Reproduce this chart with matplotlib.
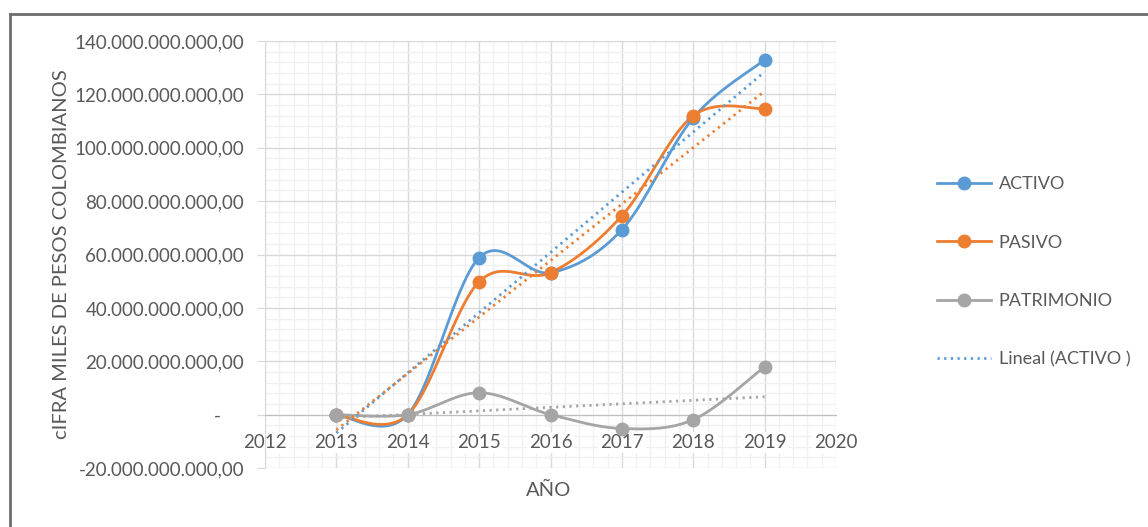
import numpy as np
import matplotlib
matplotlib.use("Agg")
import matplotlib.pyplot as plt
from matplotlib.lines import Line2D
from matplotlib.ticker import FuncFormatter, MultipleLocator, NullFormatter
import matplotlib.transforms as mtransforms

years = [2013, 2014, 2015, 2016, 2017, 2018, 2019]
activo = [0.0, 0.0, 58.8e9, 53.2e9, 69.3e9, 111.2e9, 132.9e9]
pasivo = [0.0, 0.0, 49.8e9, 53.2e9, 74.5e9, 112.0e9, 114.6e9]
patrimonio = [0.0, 0.0, 8.2e9, 0.0, -5.2e9, -1.9e9, 18.0e9]
series_names = ["ACTIVO", "PASIVO", "PATRIMONIO"]
colors = ["#5B9BD5", "#ED7D31", "#A5A5A5"]

plt.rcParams['font.family'] = ['Lato', 'DejaVu Sans']
txt = "#595959"

def smooth(x, y, n=60):
    x = np.asarray(x, float); y = np.asarray(y, float)
    P = np.column_stack([x, y])
    m = len(P)
    out = []
    for i in range(m - 1):
        p0 = P[max(i - 1, 0)]; p1 = P[i]; p2 = P[i + 1]; p3 = P[min(i + 2, m - 1)]
        c1 = p1 + (p2 - p0) / 6.0
        c2 = p2 - (p3 - p1) / 6.0
        t = np.linspace(0, 1, n)[:, None]
        seg = (1 - t) ** 3 * p1 + 3 * (1 - t) ** 2 * t * c1 + 3 * (1 - t) * t ** 2 * c2 + t ** 3 * p2
        out.append(seg if i == 0 else seg[1:])
    s = np.vstack(out)
    return s[:, 0], s[:, 1]

fig = plt.figure(figsize=(11.48, 5.27), dpi=100)
ax = fig.add_axes([265/1148, 1 - 468/527, (836 - 265)/1148, (468 - 41)/527])

data = [activo, pasivo, patrimonio]
for vals, c in zip(data, colors):
    sx, sy = smooth(years, vals)
    ax.plot(sx, sy, color=c, lw=2.0, zorder=3, solid_capstyle='round')
    k, b = np.polyfit(years, vals, 1)
    tx = np.array([years[0], years[-1]], float)
    ax.plot(tx, k * tx + b, color=c, lw=2.0, ls=(0, (0.8, 1.6)), zorder=4)
    ax.plot(years, vals, 'o', color=c, ms=9, zorder=5)

ax.set_xlim(2012, 2020)
ax.set_ylim(-20e9, 140e9)
ax.xaxis.set_major_locator(MultipleLocator(1))
ax.xaxis.set_minor_locator(MultipleLocator(0.2))
ax.yaxis.set_major_locator(MultipleLocator(20e9))
ax.yaxis.set_minor_locator(MultipleLocator(4e9))
ax.grid(which='major', color='#D9D9D9', lw=1.0, zorder=0)
ax.grid(which='minor', color='#F0F0F0', lw=1.0, zorder=0)
ax.set_axisbelow(True)

def yfmt(v, pos):
    if abs(v) < 1:
        return "-     "
    s = f"{int(round(v)):,}".replace(",", ".")
    return s + ",00"

ax.yaxis.set_major_formatter(FuncFormatter(yfmt))
ax.xaxis.set_major_formatter(NullFormatter())

for s in ['top', 'right']:
    ax.spines[s].set_visible(False)
ax.spines['bottom'].set_position(('data', 0))
ax.spines['bottom'].set_color('#BFBFBF')
ax.spines['left'].set_color('#D9D9D9')
ax.tick_params(axis='x', which='both', length=0)
ax.tick_params(axis='y', which='major', length=6, color='#D9D9D9', pad=9, labelsize=13.5, labelcolor=txt)
ax.tick_params(axis='y', which='minor', length=0)

# x tick labels drawn just below the zero line, on a white background
offset = mtransforms.ScaledTranslation(0, -14/72, fig.dpi_scale_trans)
for v in ax.get_xticks():
    if 2012 <= v <= 2020:
        ax.text(v, 0, f"{int(round(v))}", transform=ax.transData + offset,
                ha='center', va='top', fontsize=13.5, color=txt, zorder=2.5, clip_on=False,
                bbox=dict(facecolor='white', edgecolor='none', pad=1.5))

fig.text(62/1148, 1 - 254/527, "cIFRA MILES DE PESOS COLOMBIANOS", rotation=90,
         ha='center', va='center', fontsize=14.5, color=txt)
fig.text(549/1148, 1 - 490/527, "AÑO", ha='center', va='center', fontsize=14.5, color=txt)

handles = [Line2D([], [], color=c, lw=2.0, marker='o', ms=9) for c in colors]
handles.append(Line2D([], [], color=colors[0], lw=2.0, ls=(0, (0.8, 1.6))))
labels = series_names + ["Lineal (ACTIVO )"]
leg = fig.legend(handles, labels, loc='center left', bbox_to_anchor=(921/1148, 1 - 272/527),
                 frameon=False, fontsize=13, labelcolor=txt, handlelength=3.0,
                 labelspacing=2.35, handletextpad=0.4)

# outer border (top and left)
fig.add_artist(Line2D([10/1148, 1], [1 - 14/527, 1 - 14/527], color='#6E6E6E', lw=2, transform=fig.transFigure))
fig.add_artist(Line2D([10/1148, 10/1148], [0, 1 - 14/527], color='#6E6E6E', lw=2, transform=fig.transFigure))

fig.savefig("out.png", dpi=100)
